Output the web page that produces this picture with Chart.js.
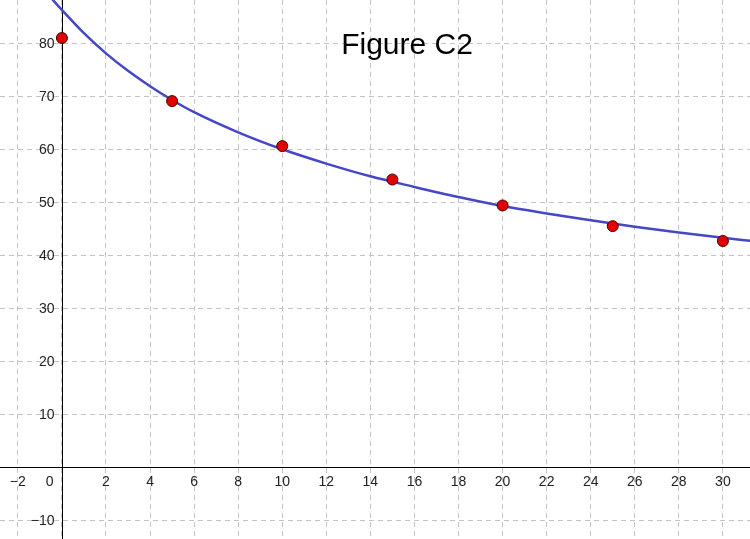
<!DOCTYPE html>
<html>
<head>
<meta charset="utf-8">
<script src="https://cdn.jsdelivr.net/npm/chart.js@4"></script>
<style>
  body { margin: 0; background: #fff; }
  #wrap { width: 750px; height: 539px; }
</style>
</head>
<body>
<div id="wrap"><canvas id="figChart" width="750" height="539"></canvas></div>
<script>
// measured points
const pointX = [0, 5, 10, 15, 20, 25, 30];
const pointY = [81.0, 69.1, 60.6, 54.3, 49.4, 45.5, 42.7];

// fitted curve
const curveX = [-0.5, 0, 1, 2, 3, 4, 5, 6, 8, 10, 12, 14, 16, 18, 20, 22, 24, 26, 28, 30, 31.3];
const curveY = [88.6, 86.3, 81.9, 78.1, 74.8, 71.9, 69.3, 67.0, 63.2, 60.0, 57.3, 54.9, 52.9, 51.0, 49.3, 47.9, 46.6, 45.4, 44.3, 43.3, 42.7];

// axis ticks
const xTicks = [-2, 0, 2, 4, 6, 8, 10, 12, 14, 16, 18, 20, 22, 24, 26, 28, 30];
const yTicks = [-10, 0, 10, 20, 30, 40, 50, 60, 70, 80];

const titleText = 'Figure C2';

const axesPlugin = {
  id: 'geoAxes',
  beforeDatasetsDraw(chart) {
    const ctx = chart.ctx;
    const xs = chart.scales.x;
    const ys = chart.scales.y;
    const x0 = Math.round(xs.getPixelForValue(0)) + 0.5;
    const y0 = Math.round(ys.getPixelForValue(0)) + 0.5;
    ctx.save();
    ctx.strokeStyle = '#000';
    ctx.lineWidth = 1;
    ctx.beginPath();
    ctx.moveTo(0, y0); ctx.lineTo(chart.width, y0);
    ctx.moveTo(x0, 0); ctx.lineTo(x0, chart.height);
    ctx.stroke();

    ctx.fillStyle = '#222';
    ctx.font = "14px 'Liberation Sans', Arial, sans-serif";
    ctx.textBaseline = 'alphabetic';
    xTicks.forEach(v => {
      if (v === 0) {
        ctx.textAlign = 'right';
        ctx.fillText('0', x0 - 9, y0 + 18);
      } else {
        ctx.textAlign = 'center';
        ctx.fillText(v < 0 ? '\u2212' + Math.abs(v) : String(v), xs.getPixelForValue(v), y0 + 18);
      }
    });
    ctx.textAlign = 'right';
    yTicks.forEach(v => {
      if (v === 0) return;
      ctx.fillText(v < 0 ? '\u2212' + Math.abs(v) : String(v), x0 - 8, ys.getPixelForValue(v) + 5);
    });

    ctx.fillStyle = '#000';
    ctx.font = "30px 'Liberation Sans', Arial, sans-serif";
    ctx.textAlign = 'center';
    ctx.fillText(titleText, 407, 54);
    ctx.restore();
  }
};

new Chart(document.getElementById('figChart').getContext('2d'), {
  type: 'scatter',
  data: {
    datasets: [
      {
        data: pointX.map((x, i) => ({ x: x, y: pointY[i] })),
        pointRadius: 5.5,
        pointBackgroundColor: '#e00000',
        pointBorderColor: '#4a0000',
        pointBorderWidth: 1,
        showLine: false
      },
      {
        data: curveX.map((x, i) => ({ x: x, y: curveY[i] })),
        showLine: true,
        pointRadius: 0,
        borderColor: '#4646c8',
        borderWidth: 2.5,
        cubicInterpolationMode: 'monotone'
      }
    ]
  },
  plugins: [axesPlugin],
  options: {
    responsive: false,
    animation: false,
    layout: { padding: 0, autoPadding: false },
    plugins: {
      legend: { display: false },
      tooltip: { enabled: false }
    },
    scales: {
      x: {
        type: 'linear',
        min: -2.81,
        max: 31.23,
        afterBuildTicks: (scale) => { scale.ticks = xTicks.map(v => ({ value: v })); },
        ticks: { display: false },
        grid: { color: '#c4c4c4', lineWidth: 1, drawTicks: false },
        border: { display: false, dash: [5, 4] }
      },
      y: {
        type: 'linear',
        min: -13.53,
        max: 88.17,
        afterBuildTicks: (scale) => { scale.ticks = yTicks.map(v => ({ value: v })); },
        ticks: { display: false },
        grid: { color: '#c4c4c4', lineWidth: 1, drawTicks: false },
        border: { display: false, dash: [5, 4] }
      }
    }
  }
});
</script>
</body>
</html>
